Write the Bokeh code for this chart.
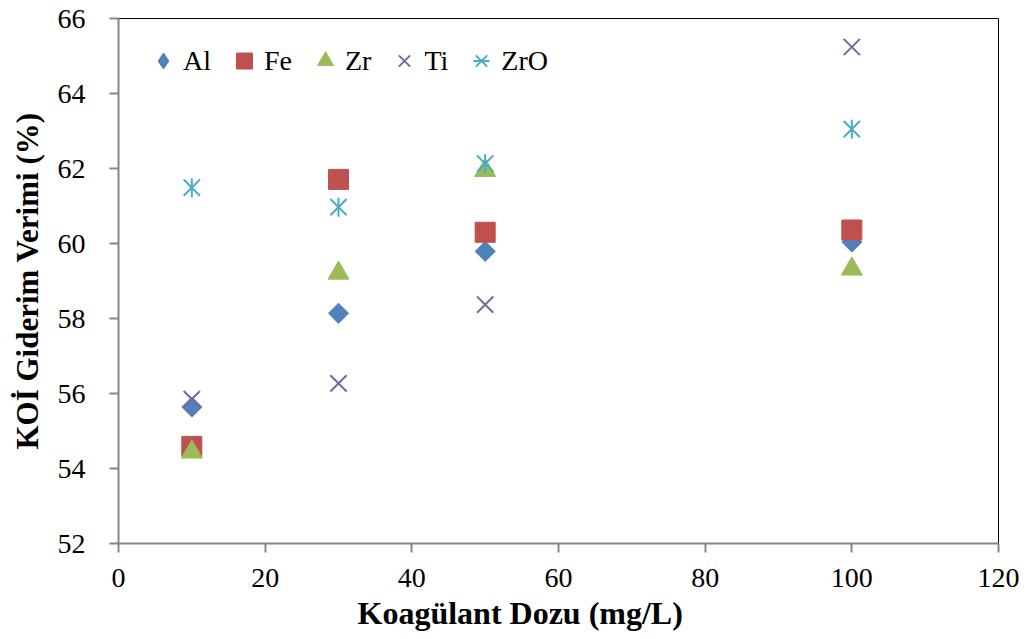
from bokeh.plotting import figure
from bokeh.models import Range1d, FixedTicker, Legend, LegendItem, Title
from bokeh.embed import file_html
from bokeh.resources import INLINE
import math

dose = [10, 30, 50, 100]
al = [55.64, 58.14, 59.79, 60.04]
fe = [54.59, 61.71, 60.30, 60.36]
zr = [54.44, 59.21, 61.95, 59.32]
ti = [55.85, 56.27, 58.37, 65.24]
zro = [61.49, 60.97, 62.13, 63.05]

x_ticks = [0, 20, 40, 60, 80, 100, 120]
y_ticks = [52, 54, 56, 58, 60, 62, 64, 66]

FONT = "Liberation Serif"
C_AL, C_FE, C_ZR, C_TI, C_ZRO = "#4F81BD", "#C0504D", "#9BBB59", "#8064A2", "#4BACC6"

p = figure(width=1031, height=639, output_backend="svg", toolbar_location=None,
           x_range=Range1d(0, 120), y_range=Range1d(52, 66))
p.min_border = 0
p.min_border_left = 118
p.min_border_right = 33
p.min_border_top = 18
p.min_border_bottom = 96
p.background_fill_color = "white"
p.border_fill_color = "white"
p.outline_line_color = "black"
p.outline_line_width = 1
p.grid.visible = False

for ax in (p.xaxis[0], p.yaxis[0]):
    ax.axis_line_color = "#868686"
    ax.axis_line_width = 2
    ax.major_tick_line_color = "#868686"
    ax.major_tick_line_width = 2
    ax.major_tick_in = 0
    ax.major_tick_out = 9
    ax.minor_tick_line_color = None
    ax.major_label_text_font = FONT
    ax.major_label_text_font_size = "28px"
    ax.major_label_text_color = "black"
    ax.axis_label_text_font = FONT
    ax.axis_label_text_font_size = "31px"
    ax.axis_label_text_font_style = "bold"
    ax.axis_label_text_color = "black"

p.xaxis.ticker = FixedTicker(ticks=x_ticks)
p.yaxis.ticker = FixedTicker(ticks=y_ticks)
p.yaxis.axis_label = "KOİ Giderim Verimi (%)"
p.xaxis.major_label_standoff = 16
p.yaxis.major_label_standoff = 24
p.yaxis.axis_label_standoff = 10

xtitle = Title(text="Koagülant Dozu (mg/L)", align="left", offset=239, standoff=6,
               text_font=FONT, text_font_size="32px", text_font_style="bold",
               text_color="black")
p.add_layout(xtitle, "below")

# narrow diamond (used for the legend swatch), hidden under the rotated square
r_al_leg = p.scatter(dose, al, marker="diamond", size=19, fill_color=C_AL, line_color=C_AL)
r_al = p.scatter(dose, al, marker="square", size=14.2, angle=math.pi / 4,
                 fill_color=C_AL, line_color=C_AL)
r_fe = p.scatter(dose, fe, marker="square", size=20, fill_color=C_FE, line_color=C_FE)
r_zr = p.scatter(dose, zr, marker="triangle", size=21, fill_color=C_ZR, line_color=C_ZR)
r_ti = p.scatter(dose, ti, marker="x", size=23, line_color=C_TI, line_width=2)
r_zro1 = p.scatter(dose, zro, marker="x", size=23, line_color=C_ZRO, line_width=2)
r_zro2 = p.scatter(dose, zro, marker="dash", size=19, angle=math.pi / 2,
                   line_color=C_ZRO, line_width=2)

legend = Legend(items=[
    LegendItem(label="Al", renderers=[r_al_leg]),
    LegendItem(label="Fe", renderers=[r_fe]),
    LegendItem(label="Zr", renderers=[r_zr]),
    LegendItem(label="Ti", renderers=[r_ti]),
    LegendItem(label="ZrO", renderers=[r_zro1, r_zro2]),
], orientation="horizontal", location=(25, 460))
legend.glyph_width = 40
legend.glyph_height = 45
legend.label_standoff = 0
legend.spacing = 13
legend.padding = 0
legend.margin = 0
legend.border_line_color = None
legend.background_fill_alpha = 0
legend.label_text_font = FONT
legend.label_text_font_size = "28px"
legend.label_text_color = "black"
p.add_layout(legend, "center")

open("out.html", "w").write(file_html(p, INLINE))
